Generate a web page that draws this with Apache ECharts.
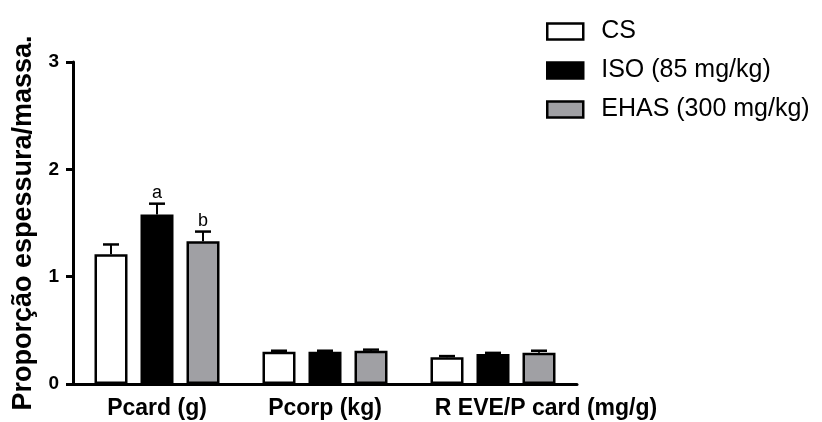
<!DOCTYPE html>
<html><head><meta charset="utf-8">
<script src="https://cdn.jsdelivr.net/npm/echarts@6/dist/echarts.min.js"></script>
<style>html,body{margin:0;padding:0;background:#fff}#c{width:822px;height:422px}</style>
</head><body><div id="c"></div>
<script>
const categories = ['Pcard (g)', 'Pcorp (kg)', 'R EVE/P card (mg/g)'];
const seriesNames = ['CS', 'ISO (85 mg/kg)', 'EHAS (300 mg/kg)'];
const csValues = [1.21, 0.30, 0.25];
const isoValues = [1.58, 0.30, 0.28];
const ehasValues = [1.33, 0.31, 0.29];
const csErr = [0.09, 0.01, 0.01];
const isoErr = [0.10, 0.01, 0.01];
const ehasErr = [0.09, 0.01, 0.02];
const sigLabels = [['', '', ''], ['a', '', ''], ['b', '', '']];
const yTicks = [0, 1, 2, 3];

const fills = ['#ffffff', '#000000', '#a0a0a4'];
const values = [csValues, isoValues, ehasValues];
const errs = [csErr, isoErr, ehasErr];
const barW = 33, gapPx = 13;
const offsets = [-(barW + gapPx), 0, (barW + gapPx)];
const font = 'Liberation Sans, Arial, sans-serif';

const chart = echarts.init(document.getElementById('c'), null, {renderer: 'canvas'});
const series = [];
values.forEach((vals, i) => {
  series.push({
    name: seriesNames[i], type: 'bar', data: vals, barWidth: barW, barGap: (gapPx / barW * 100) + '%',
    itemStyle: {color: fills[i], borderColor: '#000', borderWidth: 2.5},
    emphasis: {disabled: true}, animation: false
  });
});
values.forEach((vals, i) => {
  series.push({
    type: 'custom', silent: true, animation: false, z: 5,
    data: vals.map((v, j) => [j, v, v + errs[i][j], sigLabels[i][j]]),
    renderItem: function (params, api) {
      const base = api.coord([api.value(0), api.value(1)]);
      const top = api.coord([api.value(0), api.value(2)]);
      const x = base[0] + offsets[i];
      const children = [
        {type: 'line', shape: {x1: x, y1: base[1], x2: x, y2: top[1]}, style: {stroke: '#000', lineWidth: 2}},
        {type: 'line', shape: {x1: x - 8, y1: top[1], x2: x + 8, y2: top[1]}, style: {stroke: '#000', lineWidth: 2.5}}
      ];
      const lab = sigLabels[i][params.dataIndex];
      if (lab) {
        children.push({type: 'text', style: {text: lab, x: x, y: top[1] - 2, align: 'center', verticalAlign: 'bottom', font: '18px ' + font, fill: '#000'}});
      }
      return {type: 'group', children: children};
    }
  });
});

const catData = categories.map((c, j) => j === 2 ? {value: c, textStyle: {rich: {s: {fontFamily: font, fontSize: 23, fontWeight: 'bold', color: '#000', padding: [0, 0, 0, 106]}}}} : c);

chart.setOption({
  backgroundColor: '#fff',
  animation: false,
  grid: {left: 73, right: 245, top: 62, bottom: 38, containLabel: false},
  legend: {
    orient: 'vertical', left: 541, top: 14, itemGap: 14, itemWidth: 36, itemHeight: 16, icon: 'rect',
    data: seriesNames.map((n, i) => ({name: n, itemStyle: {color: fills[i], borderColor: '#000', borderWidth: 2.5}})),
    textStyle: {fontFamily: font, fontSize: 25, lineHeight: 25, color: '#000', padding: [0, 0, 0, 13]},
    selectedMode: false
  },
  xAxis: {
    type: 'category', data: catData,
    axisLine: {lineStyle: {color: '#000', width: 3}},
    axisTick: {alignWithLabel: true, length: 7, lineStyle: {color: '#000', width: 3}},
    axisLabel: {
      interval: 0, hideOverlap: false,
      fontFamily: font, fontSize: 23, fontWeight: 'bold', color: '#000', margin: 13,
      formatter: function (v, idx) { return idx === 2 ? '{s|' + v + '}' : v; }
    }
  },
  yAxis: {
    type: 'value', min: yTicks[0], max: yTicks[yTicks.length - 1], interval: 1,
    name: 'Proporção espessura/massa.', nameLocation: 'middle', nameGap: 34, nameRotate: 90,
    nameTextStyle: {fontFamily: font, fontSize: 27, fontWeight: 'bold', color: '#000'},
    axisLine: {show: true, lineStyle: {color: '#000', width: 3}},
    axisTick: {show: true, length: 7, lineStyle: {color: '#000', width: 3}},
    axisLabel: {fontFamily: font, fontSize: 19, fontWeight: 'bold', color: '#000', margin: 14},
    splitLine: {show: false}
  },
  series: series
});
</script></body></html>
